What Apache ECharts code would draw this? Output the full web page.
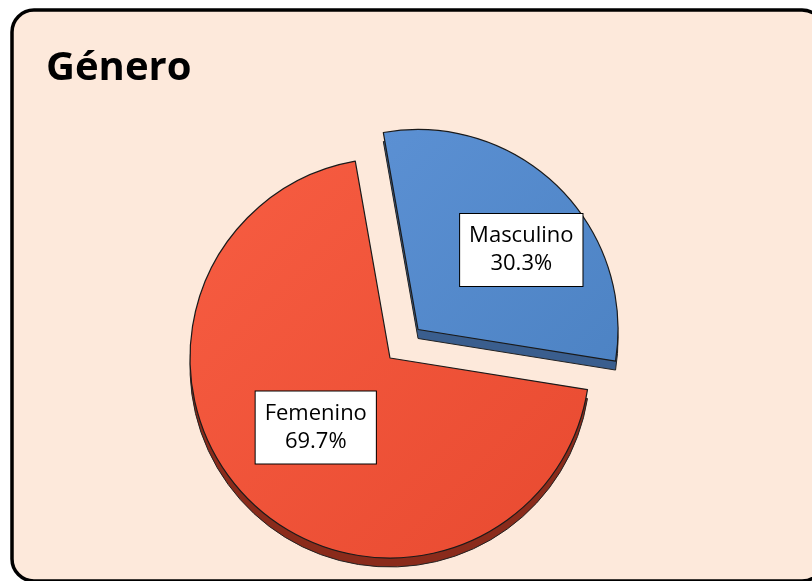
<!DOCTYPE html>
<html>
<head>
<meta charset="utf-8">
<script src="https://cdn.jsdelivr.net/npm/echarts@6/dist/echarts.min.js"></script>
<style>
  html, body { margin: 0; padding: 0; background: #fff; }
  #main { width: 812px; height: 581px; }
</style>
</head>
<body>
<div id="main"></div>
<script>
// datos: género (%)
var categorias = ['Masculino', 'Femenino'];
var valores = [30.3, 69.7];

var topColors = [['#5b90d3', '#4d83c4'], ['#f75d42', '#e84a30']];
var sideColors = ['#3a5e8e', '#8a2b1b'];
var labelShift = [[31, -6], [-2, -4]];

var chart = echarts.init(document.getElementById('main'));

function topData() {
  return categorias.map(function (c, i) {
    return {
      name: c,
      value: valores[i],
      selected: i === 0,
      itemStyle: {
        color: new echarts.graphic.LinearGradient(0, 0, 1, 1, [
          { offset: 0, color: topColors[i][0] },
          { offset: 1, color: topColors[i][1] }
        ])
      }
    };
  });
}

function sideData() {
  return categorias.map(function (c, i) {
    return {
      name: c,
      value: valores[i],
      selected: i === 0,
      itemStyle: { color: sideColors[i] }
    };
  });
}

var pieBase = {
  type: 'pie',
  radius: 200,
  startAngle: 100,
  clockwise: true,
  selectedMode: 'multiple',
  selectedOffset: 40,
  percentPrecision: 1,
  animation: false,
  silent: true,
  avoidLabelOverlap: false,
  emphasis: { disabled: true }
};

var option = {
  backgroundColor: '#fff',
  title: {
    text: 'Género',
    left: 41,
    top: 44,
    textStyle: {
      fontFamily: 'Open Sans',
      fontWeight: 'bold',
      fontSize: 40,
      color: '#000'
    }
  },
  graphic: [{
    type: 'rect',
    z: -100,
    silent: true,
    shape: { x: 12, y: 10, width: 812, height: 571, r: 22 },
    style: { fill: '#fde9db', stroke: '#000', lineWidth: 3.5 }
  }],
  series: [
    Object.assign({}, pieBase, {
      name: 'lado',
      z: 1,
      center: [390, 367],
      data: sideData(),
      label: { show: false },
      labelLine: { show: false },
      itemStyle: { borderColor: '#222', borderWidth: 1 }
    }),
    Object.assign({}, pieBase, {
      name: 'Género',
      z: 2,
      center: [390, 358],
      data: topData(),
      itemStyle: { borderColor: '#1a1a1a', borderWidth: 1.2 },
      label: {
        show: true,
        position: 'inner',
        formatter: '{b}\n{d}%',
        fontFamily: 'Open Sans',
        fontSize: 22,
        lineHeight: 28,
        color: '#000',
        backgroundColor: '#fff',
        borderColor: '#000',
        borderWidth: 1,
        padding: [8, 9]
      },
      labelLine: { show: false },
      labelLayout: function (p) {
        var s = labelShift[p.dataIndex];
        return { dx: s[0], dy: s[1] };
      }
    })
  ]
};

chart.setOption(option);
</script>
</body>
</html>
